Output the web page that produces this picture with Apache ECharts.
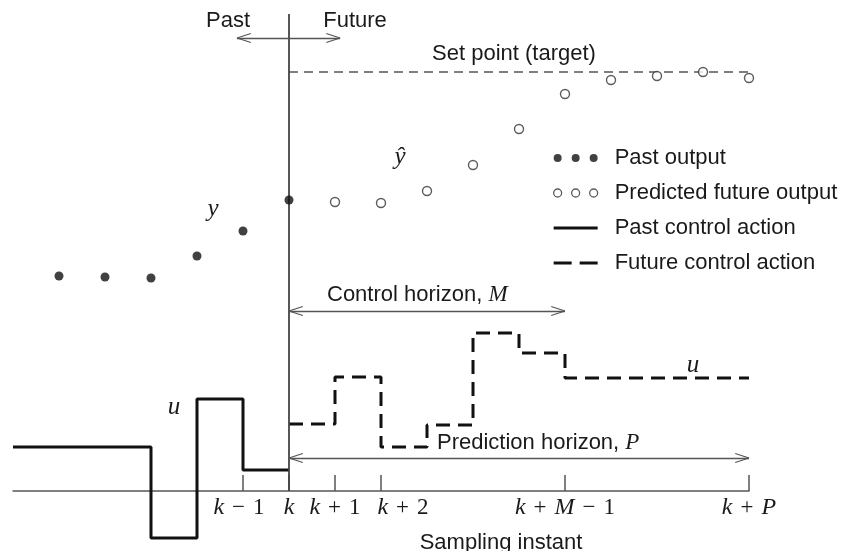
<!DOCTYPE html>
<html><head><meta charset="utf-8">
<script src="https://cdn.jsdelivr.net/npm/echarts@6/dist/echarts.min.js"></script>
<style>html,body{margin:0;padding:0;background:#fff}#c{width:846px;height:551px}</style>
</head><body><div id="c"></div>
<script>
// ---- data (sampling instants relative to k, output / control values in arbitrary units) ----
const pastInstants = [-5, -4, -3, -2, -1, 0];
const pastOutput = [21.5, 21.4, 21.3, 23.5, 26.0, 29.1];
const futureInstants = [1, 2, 3, 4, 5, 6, 7, 8, 9, 10];
const predictedOutput = [28.9, 28.8, 30.0, 32.6, 36.2, 39.7, 41.1, 41.5, 41.9, 41.3];
const setPoint = 41.9;
const pastControlStarts = [-6, -3, -2, -1];
const pastControl = [4.4, -4.7, 9.2, 2.1];
const futureControlStarts = [0, 1, 2, 3, 4, 5, 6];
const futureControl = [6.7, 11.4, 4.4, 6.6, 15.8, 13.8, 11.3];
const controlHorizonEnd = 6;      // k + M - 1
const predictionHorizonEnd = 10;  // k + P
const tickValues = [-1, 0, 1, 2, 6, 10];
const tickLabels = ['k − 1', 'k', 'k + 1', 'k + 2', 'k + M − 1', 'k + P'];

// ---- helpers ----
function stepData(starts, vals, end) {
  const d = starts.map((s, i) => [s, vals[i]]);
  d.push([end, vals[vals.length - 1]]);
  return d;
}
const HX = 0.3, HY = 0.45; // arrow-head size in axis units
function arrow(x0, x1, y) {
  return [
    [{coord: [x0, y]}, {coord: [x1, y]}],
    [{coord: [x0 + HX, y + HY]}, {coord: [x0, y]}],
    [{coord: [x0 + HX, y - HY]}, {coord: [x0, y]}],
    [{coord: [x1 - HX, y + HY]}, {coord: [x1, y]}],
    [{coord: [x1 - HX, y - HY]}, {coord: [x1, y]}]
  ];
}
function mathLabel(s) {
  return s.split(' ').map(t =>
    /^[kMP]$/.test(t) ? '{i|' + t + '}' : /^[+−]$/.test(t) ? '{o|' + t + '}' : '{n|' + t + '}'
  ).join('');
}
// legend icons (bounding box 44 x 8)
const BOX = 'M0,0h0.01v0.01h-0.01zM0,7.99h0.01v0.01h-0.01z';
const dotsPath = 'path://M0,4a4,4 0 1,0 8,0a4,4 0 1,0 -8,0zM18,4a4,4 0 1,0 8,0a4,4 0 1,0 -8,0zM36,4a4,4 0 1,0 8,0a4,4 0 1,0 -8,0z';
const solidPath = 'path://M0,2.5h44v3h-44z' + BOX;
const dashPath = 'path://M0,2.5h18v3h-18zM26,2.5h18v3h-18z' + BOX;

const SANS = 'Liberation Sans';
const SERIF = 'Liberation Serif';
const TXT = '#1a1a1a';
const GRAY = '#555';

const chart = echarts.init(document.getElementById('c'), null, {renderer: 'canvas'});
chart.setOption({
  animation: false,
  backgroundColor: '#fff',
  grid: {left: 13, right: 97, top: 11, bottom: 60, containLabel: false, outerBoundsMode: 'none'},
  xAxis: {
    type: 'value', min: -6, max: 10, interval: 1,
    splitLine: {show: false},
    axisLine: {onZero: false, lineStyle: {color: GRAY, width: 1.5}},
    axisTick: {inside: true, length: 16, customValues: tickValues, lineStyle: {color: GRAY, width: 1.5}},
    axisLabel: {
      customValues: tickValues, margin: 5,
      fontFamily: SERIF, fontSize: 23, color: TXT,
      formatter: v => {
        const i = tickValues.indexOf(v);
        if (i < 0) return '';
        let s = mathLabel(tickLabels[i]);
        if (v === 2) s = '{p| }' + s;      // nudged right to clear "k + 1"
        if (v === -1) s = s + '{q| }';
        return s;
      },
      rich: {
        i: {fontFamily: SERIF, fontStyle: 'italic', fontSize: 24, color: TXT},
        o: {fontFamily: SERIF, fontSize: 23, color: TXT, padding: [0, 8]},
        n: {fontFamily: SERIF, fontSize: 23, color: TXT},
        p: {width: 44, fontSize: 23},
        q: {width: 8, fontSize: 23}
      }
    }
  },
  yAxis: {type: 'value', min: 0, max: 48, show: false},
  legend: {
    orient: 'vertical', left: 553, top: 146, padding: 0,
    itemWidth: 44, itemHeight: 8, itemGap: 11,
    selectedMode: false,
    textStyle: {fontFamily: SANS, fontSize: 22, color: TXT, lineHeight: 24, padding: [0, 0, 0, 12]},
    data: [
      {name: 'Past output', icon: dotsPath, itemStyle: {color: '#111', borderWidth: 0}},
      {name: 'Predicted future output', icon: dotsPath, itemStyle: {color: '#fff', borderColor: '#333', borderWidth: 1.3}},
      {name: 'Past control action', icon: solidPath, itemStyle: {color: '#111', borderWidth: 0}},
      {name: 'Future control action', icon: dashPath, itemStyle: {color: '#111', borderWidth: 0}}
    ]
  },
  series: [
    {
      name: 'Set point', type: 'line', data: [[0, setPoint], [predictionHorizonEnd, setPoint]],
      symbol: 'none', lineStyle: {color: GRAY, width: 1.4, type: [9, 6]}, z: 1,
      markLine: {
        silent: true, symbol: ['none', 'none'], label: {show: false}, animation: false,
        lineStyle: {color: GRAY, width: 1.3, type: 'solid'},
        data: [
          [{coord: [0, 0], lineStyle: {color: '#444', width: 1.8}}, {coord: [0, 47.7]}],
          ...arrow(-1.13, 1.11, 45.3),
          ...arrow(0, controlHorizonEnd, 18.0),
          ...arrow(0, predictionHorizonEnd, 3.3)
        ]
      }
    },
    {
      name: 'Past control action', type: 'line', step: 'end', clip: false,
      data: stepData(pastControlStarts, pastControl, 0),
      symbol: 'none', itemStyle: {color: '#111'}, lineStyle: {color: '#111', width: 3}, z: 3
    },
    {
      name: 'Future control action', type: 'line', step: 'end', clip: false,
      data: stepData(futureControlStarts, futureControl, predictionHorizonEnd),
      symbol: 'none', itemStyle: {color: '#111'}, lineStyle: {color: '#111', width: 3, type: [14, 8]}, z: 3
    },
    {
      name: 'Past output', type: 'scatter',
      data: pastInstants.map((x, i) => [x, pastOutput[i]]),
      symbol: 'circle', symbolSize: 9, itemStyle: {color: '#111'}, z: 5
    },
    {
      name: 'Predicted future output', type: 'scatter',
      data: futureInstants.map((x, i) => [x, predictedOutput[i]]),
      symbol: 'circle', symbolSize: 9, itemStyle: {color: '#fff', borderColor: '#333', borderWidth: 1.4}, z: 5
    }
  ],
  graphic: [
    {type: 'text', x: 228, y: 21, style: {text: 'Past', fontFamily: SANS, fontSize: 22, fill: TXT, align: 'center', verticalAlign: 'middle'}},
    {type: 'text', x: 355, y: 21, style: {text: 'Future', fontFamily: SANS, fontSize: 22, fill: TXT, align: 'center', verticalAlign: 'middle'}},
    {type: 'text', x: 514, y: 54, style: {text: 'Set point (target)', fontFamily: SANS, fontSize: 22, fill: TXT, align: 'center', verticalAlign: 'middle'}},
    {type: 'text', x: 327, y: 295, style: {text: '{s|Control horizon, }{m|M}', align: 'left', verticalAlign: 'middle',
      rich: {s: {fontFamily: SANS, fontSize: 22, fill: TXT}, m: {fontFamily: SERIF, fontStyle: 'italic', fontSize: 23, fill: TXT}}}},
    {type: 'text', x: 437, y: 443, style: {text: '{s|Prediction horizon, }{m|P}', align: 'left', verticalAlign: 'middle',
      rich: {s: {fontFamily: SANS, fontSize: 22, fill: TXT}, m: {fontFamily: SERIF, fontStyle: 'italic', fontSize: 23, fill: TXT}}}},
    {type: 'text', x: 501, y: 543, style: {text: 'Sampling instant', fontFamily: SANS, fontSize: 22, fill: TXT, align: 'center', verticalAlign: 'middle'}},
    {type: 'text', x: 213, y: 209, style: {text: 'y', fontFamily: SERIF, fontStyle: 'italic', fontSize: 25, fill: TXT, align: 'center', verticalAlign: 'middle'}},
    {type: 'text', x: 400, y: 157, style: {text: 'ŷ', fontFamily: SERIF, fontStyle: 'italic', fontSize: 25, fill: TXT, align: 'center', verticalAlign: 'middle'}},
    {type: 'text', x: 174, y: 407, style: {text: 'u', fontFamily: SERIF, fontStyle: 'italic', fontSize: 25, fill: TXT, align: 'center', verticalAlign: 'middle'}},
    {type: 'text', x: 693, y: 365, style: {text: 'u', fontFamily: SERIF, fontStyle: 'italic', fontSize: 25, fill: TXT, align: 'center', verticalAlign: 'middle'}}
  ]
});
</script>
</body></html>
